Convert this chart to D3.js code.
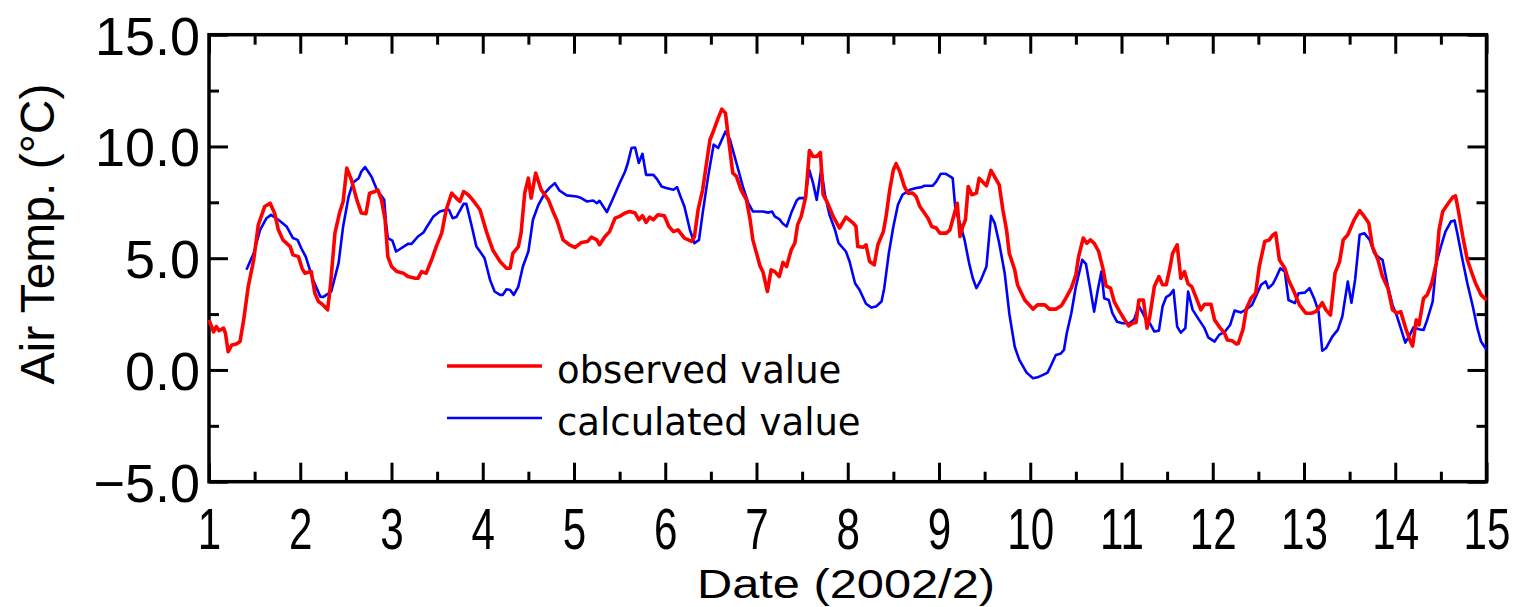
<!DOCTYPE html>
<html>
<head>
<meta charset="utf-8">
<script src="https://cdn.jsdelivr.net/npm/d3@7"></script>
<style>
  html, body { margin: 0; padding: 0; background: #fff; }
  svg { display: block; }
</style>
</head>
<body>
<svg id="chart" width="1517" height="607"></svg>
<script>
// ---------------- data ----------------
const obsDate = [1.00,1.05,1.08,1.11,1.16,1.18,1.21,1.25,1.30,1.34,1.38,1.43,1.49,1.54,1.61,1.67,1.72,1.76,1.81,1.89,1.92,1.98,2.02,2.05,2.12,2.16,2.20,2.25,2.30,2.33,2.38,2.43,2.47,2.51,2.56,2.62,2.67,2.72,2.76,2.82,2.85,2.89,2.93,2.96,3.00,3.06,3.13,3.18,3.26,3.29,3.33,3.38,3.44,3.49,3.55,3.60,3.66,3.71,3.75,3.79,3.84,3.89,3.97,4.04,4.11,4.19,4.26,4.30,4.33,4.39,4.42,4.46,4.50,4.53,4.58,4.64,4.72,4.77,4.81,4.84,4.88,4.95,5.01,5.08,5.15,5.19,5.25,5.28,5.34,5.39,5.45,5.50,5.56,5.61,5.67,5.71,5.75,5.79,5.83,5.87,5.92,5.99,6.04,6.09,6.14,6.21,6.29,6.32,6.36,6.41,6.49,6.52,6.58,6.62,6.66,6.69,6.74,6.78,6.83,6.89,6.93,6.96,7.04,7.07,7.12,7.16,7.20,7.25,7.29,7.33,7.38,7.42,7.45,7.49,7.54,7.58,7.62,7.66,7.70,7.73,7.78,7.84,7.91,7.98,8.06,8.09,8.11,8.17,8.20,8.24,8.29,8.33,8.39,8.42,8.46,8.50,8.53,8.57,8.62,8.66,8.71,8.75,8.79,8.84,8.88,8.92,8.97,9.01,9.08,9.12,9.15,9.20,9.23,9.26,9.29,9.32,9.36,9.41,9.44,9.52,9.57,9.66,9.70,9.74,9.77,9.83,9.86,9.94,10.03,10.08,10.16,10.21,10.28,10.34,10.39,10.45,10.50,10.53,10.58,10.62,10.66,10.70,10.75,10.80,10.83,10.88,10.92,10.98,11.03,11.08,11.12,11.16,11.19,11.24,11.28,11.31,11.36,11.41,11.45,11.49,11.53,11.56,11.61,11.65,11.69,11.73,11.77,11.82,11.87,11.91,11.98,12.02,12.07,12.13,12.16,12.21,12.26,12.28,12.33,12.37,12.42,12.47,12.51,12.57,12.62,12.66,12.69,12.73,12.79,12.83,12.89,12.95,13.02,13.08,13.13,13.20,13.24,13.29,13.34,13.39,13.43,13.48,13.55,13.61,13.66,13.71,13.75,13.81,13.86,13.92,13.97,14.02,14.06,14.12,14.16,14.19,14.23,14.26,14.31,14.35,14.40,14.45,14.48,14.52,14.57,14.63,14.66,14.69,14.74,14.79,14.84,14.88,14.94,15.00];
const obsTemp = [2.24,1.70,1.94,1.76,1.87,1.65,0.82,1.12,1.16,1.27,2.24,3.73,4.93,6.49,7.31,7.46,7.00,6.27,5.82,5.52,5.15,5.07,4.55,4.33,4.40,3.43,3.06,2.91,2.69,3.73,6.12,7.02,7.54,9.03,8.51,7.61,7.02,6.99,7.91,7.98,8.06,7.61,6.72,5.07,4.63,4.40,4.33,4.18,4.10,4.10,4.40,4.33,4.93,5.52,6.12,7.17,7.91,7.69,7.54,7.98,7.84,7.61,7.17,6.19,5.37,4.85,4.55,4.55,5.22,5.52,6.12,7.91,8.58,7.69,8.81,8.06,7.61,7.09,6.72,6.35,5.82,5.60,5.48,5.70,5.75,5.94,5.82,5.60,5.97,6.19,6.79,6.87,7.02,7.09,7.02,6.72,6.90,6.60,6.84,6.72,6.94,6.90,6.42,6.19,6.27,5.90,5.75,5.97,7.17,8.06,10.30,10.60,11.27,11.67,11.49,10.45,8.81,8.66,8.06,7.61,6.72,5.82,4.63,4.40,3.51,4.48,4.40,4.18,4.81,4.63,5.37,5.67,6.49,6.87,7.76,9.82,9.55,9.55,9.73,7.84,7.46,6.87,6.35,6.84,6.57,6.42,5.52,5.49,5.60,4.85,4.70,5.60,6.19,6.87,8.06,8.96,9.23,8.88,8.21,7.91,7.91,7.76,7.31,7.02,6.79,6.42,6.35,6.12,6.12,6.27,6.72,7.46,5.97,6.42,6.72,8.21,7.84,7.91,8.58,8.24,8.93,8.28,7.17,6.27,5.22,4.48,3.81,3.13,2.72,2.91,2.91,2.72,2.72,2.87,3.21,3.66,4.25,5.07,5.90,5.67,5.82,5.67,5.30,4.48,3.76,3.66,3.06,2.61,2.27,1.97,2.09,2.12,3.13,3.13,1.87,2.39,3.73,4.18,3.81,3.81,4.55,5.22,5.60,4.10,4.40,3.85,3.73,3.21,2.69,2.94,2.94,2.24,1.94,1.64,1.34,1.31,1.16,1.19,1.79,2.76,3.21,3.43,4.63,5.75,5.82,6.05,6.12,4.93,4.55,4.03,3.51,2.91,2.54,2.54,2.61,3.01,2.69,2.46,4.33,4.85,5.82,6.05,6.72,7.13,6.87,6.57,5.52,4.93,4.18,3.66,2.69,2.54,2.61,1.79,1.34,1.07,2.24,2.01,3.21,3.36,3.88,4.78,6.27,7.09,7.39,7.73,7.79,7.17,5.97,4.93,4.33,3.88,3.36,3.13];

const calcDate = [1.41,1.49,1.56,1.63,1.68,1.76,1.85,1.92,1.97,2.02,2.06,2.14,2.22,2.25,2.34,2.42,2.47,2.53,2.58,2.64,2.67,2.71,2.78,2.84,2.92,2.94,2.96,3.01,3.05,3.09,3.18,3.22,3.29,3.35,3.38,3.46,3.53,3.60,3.63,3.67,3.71,3.79,3.82,3.88,3.93,3.97,4.02,4.08,4.13,4.19,4.22,4.26,4.30,4.34,4.39,4.44,4.50,4.55,4.61,4.68,4.73,4.79,4.84,4.92,5.03,5.08,5.14,5.21,5.25,5.28,5.36,5.43,5.50,5.56,5.59,5.63,5.67,5.71,5.75,5.79,5.87,5.91,5.96,6.01,6.09,6.13,6.16,6.21,6.27,6.32,6.37,6.41,6.47,6.53,6.58,6.66,6.71,6.78,6.85,6.91,6.96,7.07,7.13,7.17,7.20,7.25,7.29,7.33,7.38,7.44,7.47,7.53,7.58,7.62,7.66,7.71,7.75,7.80,7.86,7.90,7.98,8.02,8.08,8.13,8.20,8.26,8.31,8.37,8.40,8.45,8.50,8.55,8.60,8.68,8.75,8.81,8.84,8.93,8.97,9.02,9.07,9.12,9.15,9.18,9.24,9.28,9.33,9.37,9.41,9.46,9.52,9.57,9.61,9.66,9.72,9.77,9.83,9.88,9.96,10.03,10.08,10.14,10.19,10.23,10.28,10.33,10.37,10.40,10.45,10.50,10.57,10.61,10.66,10.70,10.74,10.78,10.81,10.86,10.90,10.95,11.01,11.09,11.14,11.19,11.23,11.27,11.31,11.36,11.41,11.45,11.49,11.53,11.57,11.61,11.65,11.70,11.73,11.78,11.85,11.91,11.95,12.02,12.07,12.13,12.19,12.24,12.31,12.37,12.43,12.48,12.53,12.58,12.61,12.66,12.70,12.74,12.79,12.83,12.90,12.94,13.01,13.06,13.11,13.16,13.20,13.24,13.31,13.37,13.42,13.48,13.52,13.56,13.61,13.66,13.72,13.77,13.83,13.86,13.92,13.97,14.02,14.06,14.11,14.16,14.20,14.26,14.31,14.35,14.41,14.45,14.50,14.55,14.61,14.65,14.68,14.73,14.79,14.85,14.90,14.94,15.00];
const calcTemp = [4.48,5.22,6.27,6.79,6.94,6.72,6.42,5.90,5.82,5.37,5.07,4.03,3.28,3.26,3.51,4.78,6.42,7.76,8.39,8.58,8.88,9.08,8.66,8.06,7.61,6.57,5.90,5.79,5.30,5.40,5.64,5.64,5.97,6.15,6.35,6.87,7.09,7.17,7.17,6.79,6.84,7.43,7.43,6.42,5.52,5.30,5.00,4.03,3.51,3.36,3.36,3.61,3.58,3.36,3.73,4.63,5.30,6.72,7.39,7.91,8.14,8.36,8.03,7.81,7.76,7.69,7.54,7.58,7.46,7.57,7.06,7.69,8.35,8.88,9.26,9.93,9.95,9.26,9.67,8.73,8.73,8.54,8.21,8.14,8.06,8.18,7.84,7.31,6.27,5.67,5.82,7.02,8.66,10.08,9.93,10.67,10.30,9.26,8.21,7.46,7.09,7.09,7.04,7.09,6.87,6.75,6.54,6.42,7.02,7.58,7.69,7.69,8.93,8.36,7.61,8.99,7.84,6.94,6.27,5.67,5.30,4.85,3.88,3.58,2.96,2.79,2.84,3.06,3.66,5.22,6.42,7.39,7.84,8.06,8.14,8.18,8.24,8.24,8.43,8.78,8.78,8.66,8.58,7.17,6.42,5.82,4.78,4.10,3.66,4.03,4.63,6.90,6.57,5.67,4.33,2.54,1.04,0.45,-0.12,-0.37,-0.33,-0.22,-0.12,0.22,0.67,0.72,0.90,1.64,2.54,3.73,4.93,4.75,3.58,2.61,3.58,4.40,3.21,3.13,2.54,2.16,2.09,2.09,2.27,2.87,2.57,2.24,2.09,1.72,1.76,2.84,3.26,3.36,3.58,1.94,1.67,1.87,3.51,2.69,2.24,1.87,1.46,1.27,1.57,1.70,2.01,2.66,2.57,2.72,2.91,3.36,3.81,3.96,3.66,3.85,4.18,4.55,4.40,3.13,2.99,3.43,3.46,3.66,3.21,2.61,0.86,0.97,1.49,1.79,2.39,3.96,3.01,4.03,6.05,6.12,5.82,5.22,5.00,4.93,3.73,2.91,2.39,1.87,1.22,1.57,1.91,1.82,1.79,2.24,3.06,4.78,5.52,6.19,6.64,6.69,6.12,5.07,3.88,2.84,1.87,1.27,0.90];

const xMajorTicks = [1,2,3,4,5,6,7,8,9,10,11,12,13,14,15];
const xMinorTicks = [1.5,2.5,3.5,4.5,5.5,6.5,7.5,8.5,9.5,10.5,11.5,12.5,13.5,14.5];
const yMajorTicks = [-5,0,5,10,15];
const yMinorTicks = [-2.5,2.5,7.5,12.5];
const seriesNames = ["observed value","calculated value"];
const seriesColors = ["#ff0000","#0000ff"];
const xTitle = "Date (2002/2)";
const yTitle = "Air Temp. (°C)";

// ---------------- layout ----------------
const L = 209, R = 1486.5, T = 34.7, B = 481.7;
const svg = d3.select("#chart");
const x = d3.scaleLinear().domain([1, 15]).range([L, R]);
const y = d3.scaleLinear().domain([-5, 15]).range([B, T]);
const MAJ = 19, MIN = 10;
const axisFont = "'Liberation Sans', Arial, sans-serif";

function styleAxis(g) {
  g.select(".domain").remove();
  g.selectAll(".tick line").attr("stroke", "#000").attr("stroke-width", 3);
}

// bottom
svg.append("g").attr("transform", `translate(0,${B})`)
  .call(d3.axisBottom(x).tickValues(xMajorTicks).tickSize(-MAJ).tickFormat(d3.format("d")))
  .call(styleAxis)
  .call(g => g.selectAll(".tick text")
    .attr("y", 67).attr("dy", null)
    .attr("transform", "scale(0.74,1)")
    .attr("fill", "#000")
    .style("font-family", axisFont).style("font-size", "57px"));
svg.append("g").attr("transform", `translate(0,${B})`)
  .call(d3.axisBottom(x).tickValues(xMinorTicks).tickSize(-MIN).tickFormat(""))
  .call(styleAxis);
// top
svg.append("g").attr("transform", `translate(0,${T})`)
  .call(d3.axisTop(x).tickValues(xMajorTicks).tickSize(-MAJ).tickFormat(""))
  .call(styleAxis);
svg.append("g").attr("transform", `translate(0,${T})`)
  .call(d3.axisTop(x).tickValues(xMinorTicks).tickSize(-MIN).tickFormat(""))
  .call(styleAxis);
// left
svg.append("g").attr("transform", `translate(${L},0)`)
  .call(d3.axisLeft(y).tickValues(yMajorTicks).tickSize(-MAJ).tickPadding(9).tickFormat(d3.format(".1f")))
  .call(styleAxis)
  .call(g => g.selectAll(".tick text")
    .attr("dy", "0.36em")
    .attr("fill", "#000")
    .style("font-family", axisFont).style("font-size", "54px"));
svg.append("g").attr("transform", `translate(${L},0)`)
  .call(d3.axisLeft(y).tickValues(yMinorTicks).tickSize(-MIN).tickFormat(""))
  .call(styleAxis);
// right
svg.append("g").attr("transform", `translate(${R},0)`)
  .call(d3.axisRight(y).tickValues(yMajorTicks).tickSize(-MAJ).tickFormat(""))
  .call(styleAxis);
svg.append("g").attr("transform", `translate(${R},0)`)
  .call(d3.axisRight(y).tickValues(yMinorTicks).tickSize(-MIN).tickFormat(""))
  .call(styleAxis);

// frame
svg.append("rect")
  .attr("x", L).attr("y", T).attr("width", R - L).attr("height", B - T)
  .attr("fill", "none").attr("stroke", "#000").attr("stroke-width", 3.5);

// lines
const line = d3.line().x(d => x(d[0])).y(d => y(d[1]));
const obs = obsDate.map((d, i) => [d, obsTemp[i]]);
const calc = calcDate.map((d, i) => [d, calcTemp[i]]);
svg.append("path").datum(calc)
  .attr("d", line).attr("fill", "none")
  .attr("stroke", seriesColors[1]).attr("stroke-width", 2.6)
  .attr("stroke-linejoin", "round");
svg.append("path").datum(obs)
  .attr("d", line).attr("fill", "none")
  .attr("stroke", seriesColors[0]).attr("stroke-width", 3.6)
  .attr("stroke-linejoin", "round");

// legend
const legY = [366, 418];
const legW = [3.6, 2.6];
seriesNames.forEach((name, i) => {
  svg.append("line").attr("x1", 447).attr("x2", 542).attr("y1", legY[i]).attr("y2", legY[i])
    .attr("stroke", seriesColors[i]).attr("stroke-width", legW[i]);
  svg.append("text").attr("x", 557).attr("y", legY[i] + 17)
    .style("font-family", "'DejaVu Sans', sans-serif").style("font-size", "37px")
    .attr("fill", "#000").text(name);
});

// axis titles
svg.append("text")
  .attr("x", 846).attr("y", 598)
  .attr("text-anchor", "middle")
  .attr("textLength", 298).attr("lengthAdjust", "spacingAndGlyphs")
  .style("font-family", axisFont).style("font-size", "40px")
  .attr("fill", "#000").text(xTitle);
svg.append("text")
  .attr("transform", "translate(54,234) rotate(-90)")
  .attr("text-anchor", "middle")
  .style("font-family", axisFont).style("font-size", "48px")
  .attr("fill", "#000").text(yTitle);
</script>
</body>
</html>
